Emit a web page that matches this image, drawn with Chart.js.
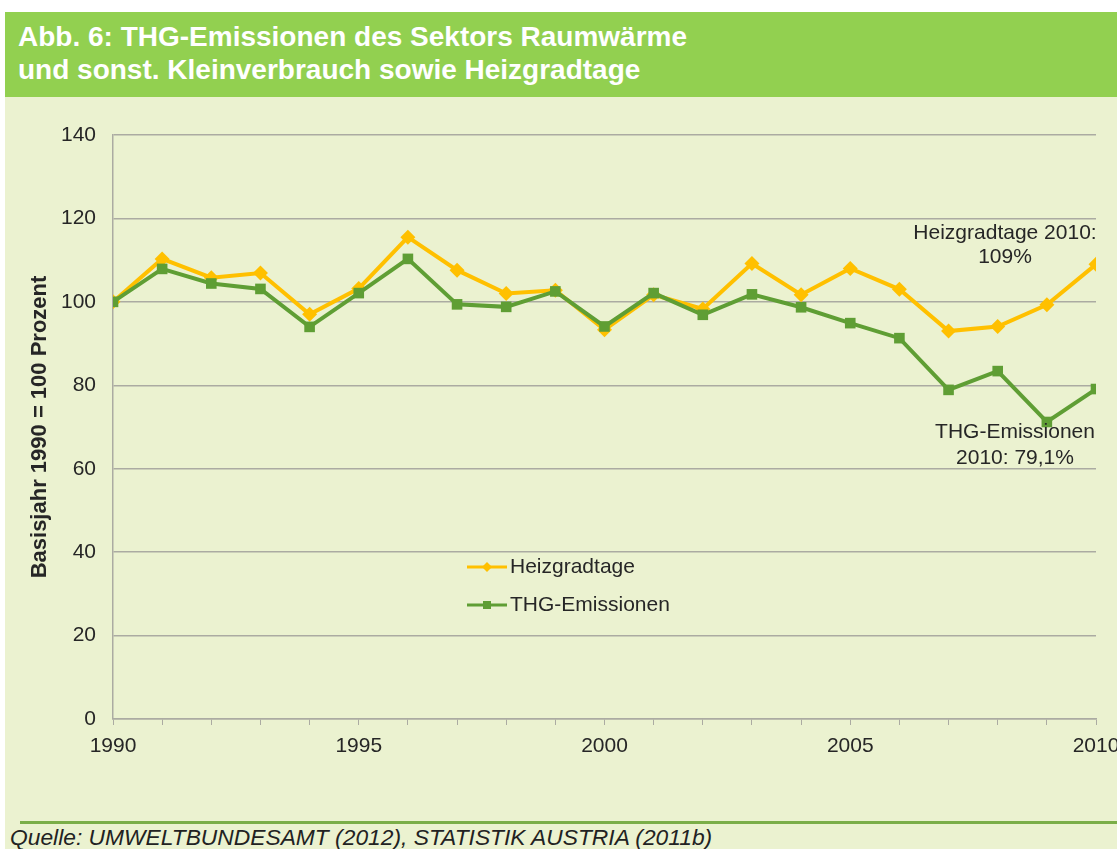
<!DOCTYPE html>
<html lang="de">
<head>
<meta charset="UTF-8">
<title>Abb. 6</title>
<script src="https://cdn.jsdelivr.net/npm/chart.js"></script>
<style>
  body { margin: 0; width: 1117px; height: 849px; background: #fff; position: relative; overflow: hidden; font-family: "Liberation Sans", Arial, sans-serif; }
  #head { position: absolute; left: 5px; top: 12px; width: 1112px; height: 85px; background: #92d050; }
  #head div { position: absolute; left: 13px; color: #fff; font-weight: bold; font-size: 28px; line-height: 33px; }
  #bg { position: absolute; left: 5px; top: 97px; width: 1112px; height: 752px; background: #ebf2d0; }
  #wrap { position: absolute; left: 0; top: 100px; width: 1117px; height: 720px; }
  #foot { position: absolute; left: 20px; top: 821px; width: 1097px; height: 3px; background: #7aae48; }
  #src { position: absolute; left: 10px; top: 824px; font-size: 22.8px; font-style: italic; color: #222; }
</style>
</head>
<body>
<div id="head"><div style="top:8px">Abb. 6: THG-Emissionen des Sektors Raumwärme<br>und sonst. Kleinverbrauch sowie Heizgradtage</div></div>
<div id="bg"></div>
<div id="wrap"><canvas id="myChart" width="1117" height="720"></canvas></div>
<div id="foot"></div>
<div id="src">Quelle: UMWELTBUNDESAMT (2012), STATISTIK AUSTRIA (2011b)</div>
<script>
var years = [1990,1991,1992,1993,1994,1995,1996,1997,1998,1999,2000,2001,2002,2003,2004,2005,2006,2007,2008,2009,2010];
var heizgradtage = [100,110.3,105.8,106.9,97.0,103.2,115.5,107.6,102.0,102.8,93.3,101.7,98.3,109.2,101.7,108.0,103.0,93.0,94.1,99.3,109.0];
var thgEmissionen = [100,107.9,104.4,103.1,94.0,102.1,110.3,99.4,98.8,102.5,94.1,102.1,96.9,101.8,98.7,94.9,91.3,78.9,83.4,71.2,79.1];
var yTicks = [0,20,40,60,80,100,120,140];

const ctx = document.getElementById('myChart');
const txt = '#262626';
const gridCol = '#ababa2';

// legend + notes drawn inside the plot
const extras = {
  id: 'extras',
  afterDraw(chart) {
    const c = chart.ctx;
    c.save();
    c.font = '21px "Liberation Sans", Arial, sans-serif';
    c.fillStyle = txt;
    c.textAlign = 'center';
    c.textBaseline = 'middle';
    c.fillText('Heizgradtage 2010:', 1005, 133);
    c.fillText('109%', 1005, 157);
    c.fillText('THG-Emissionen', 1015, 332);
    c.fillText('2010: 79,1%', 1015, 358);

    const items = [
      {label: 'Heizgradtage', color: '#ffc000', y: 467, shape: 'd'},
      {label: 'THG-Emissionen', color: '#5f9e34', y: 505, shape: 's'}
    ];
    items.forEach(it => {
      c.strokeStyle = it.color;
      c.lineWidth = 3;
      c.beginPath(); c.moveTo(467, it.y); c.lineTo(507, it.y); c.stroke();
      c.fillStyle = it.color;
      c.beginPath();
      if (it.shape === 'd') {
        c.moveTo(487, it.y - 5); c.lineTo(492, it.y); c.lineTo(487, it.y + 5); c.lineTo(482, it.y);
      } else {
        c.rect(483, it.y - 4, 8, 8);
      }
      c.fill();
      c.fillStyle = txt;
      c.textAlign = 'left';
      c.fillText(it.label, 510, it.y);
    });
    c.restore();
  }
};

new Chart(ctx, {
  type: 'line',
  data: {
    datasets: [{
      label: 'Heizgradtage',
      data: years.map((y, i) => ({x: y, y: heizgradtage[i]})),
      borderColor: '#ffc000',
      backgroundColor: '#ffc000',
      borderWidth: 4,
      pointStyle: 'rectRot',
      pointRadius: 7.5,
      pointBorderWidth: 0,
      order: 1
    }, {
      label: 'THG-Emissionen',
      data: years.map((y, i) => ({x: y, y: thgEmissionen[i]})),
      borderColor: '#5f9e34',
      backgroundColor: '#5f9e34',
      borderWidth: 4,
      pointStyle: 'rect',
      pointRadius: 7.5,
      pointBorderWidth: 0,
      order: 0
    }]
  },
  options: {
    responsive: false,
    animation: false,
    layout: { padding: { left: 0, right: 21, top: 35, bottom: 61 } },
    plugins: { legend: { display: false }, tooltip: { enabled: false } },
    scales: {
      x: {
        type: 'linear',
        min: 1990,
        max: 2010,
        afterFit(s) { s.height = 40; s.paddingLeft = 0; s.paddingRight = 0; },
        ticks: {
          stepSize: 1,
          autoSkip: false,
          maxRotation: 0,
          padding: 9,
          color: txt,
          font: { size: 21, family: '"Liberation Sans", Arial, sans-serif' },
          callback: v => (v % 5 === 0 ? String(v) : '')
        },
        grid: { drawOnChartArea: false, drawTicks: true, tickLength: 6, color: gridCol },
        border: { color: gridCol, width: 1.5 }
      },
      y: {
        min: 0,
        max: 140,
        afterFit(s) { s.width = 113; },
        afterBuildTicks(s) { s.ticks = yTicks.map(v => ({value: v})); },
        ticks: {
          padding: 17,
          color: txt,
          font: { size: 21, family: '"Liberation Sans", Arial, sans-serif' }
        },
        grid: { color: gridCol, lineWidth: 1.5, drawTicks: false },
        border: { color: gridCol, width: 1.5 },
        title: {
          display: true,
          text: 'Basisjahr 1990 = 100 Prozent',
          color: txt,
          padding: { top: 27, bottom: 0 },
          font: { size: 22, weight: 'bold', family: '"Liberation Sans", Arial, sans-serif' }
        }
      }
    }
  },
  plugins: [extras]
});
</script>
</body>
</html>
